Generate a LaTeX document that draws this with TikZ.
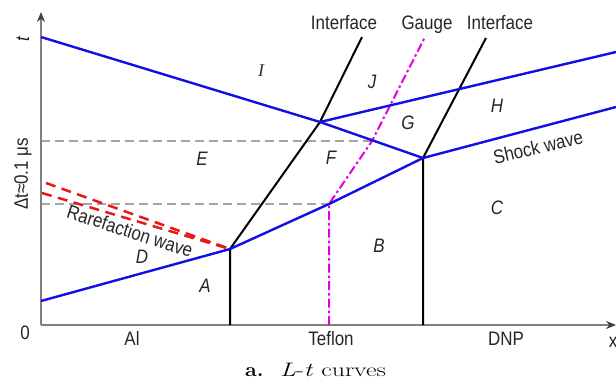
\documentclass[tikz,border=0pt]{standalone}
\usepackage{fontspec}
\usepackage{graphicx}
\setsansfont[FakeStretch=0.87]{Liberation Sans}
\newfontfamily\tnr{Liberation Serif}
\usetikzlibrary{arrows.meta}
\definecolor{wblue}{RGB}{15,15,230}
\definecolor{wmag}{RGB}{225,0,225}
\definecolor{wred}{RGB}{232,24,24}
\definecolor{axgray}{RGB}{128,128,128}
\definecolor{dgray}{RGB}{165,165,165}
\begin{document}
\begin{tikzpicture}[x=1pt,y=-1pt,
 axis/.style={draw=axgray,line width=1.4pt},
 axtip/.style={-{Stealth[length=10pt,width=8pt,color=black!75]}},
 wave/.style={draw=wblue,line width=2.4pt,line join=round},
 iface/.style={draw=black,line width=2pt,line join=round},
 gauge/.style={draw=wmag,line width=2pt,dash pattern=on 9pt off 3pt on 2.5pt off 3pt},
 rare/.style={draw=wred,line width=2.5pt,dash pattern=on 10pt off 6.5pt},
 tline/.style={draw=dgray,line width=1.1pt,dash pattern=on 9pt off 5pt},
 txt/.style={font=\sffamily\fontsize{19.5}{22}\selectfont,inner sep=0pt,text=black!85},
 reg/.style={font=\sffamily\itshape\fontsize{19.5}{22}\selectfont,inner sep=0pt,text=black!85},
]
\useasboundingbox (0,0) rectangle (616,386);
% points
\coordinate (O) at (41,325);
\coordinate (Ytip) at (41,12);
\coordinate (Xtip) at (616,325);
\coordinate (TL) at (41,37);
\coordinate (P1) at (320,122);
\coordinate (P2) at (423,158);
\coordinate (UR) at (616,52);
\coordinate (SR) at (616,107);
\coordinate (BL) at (41,301);
\coordinate (P3) at (230,249);
\coordinate (P4) at (329,204);
\coordinate (Q) at (372,141);
\coordinate (I1b) at (230,325);
\coordinate (I1t) at (362,37);
\coordinate (I2b) at (423,325);
\coordinate (I2t) at (486,38);
\coordinate (Gb) at (329,325);
\coordinate (Gt) at (425,37);
\coordinate (D1) at (41,141);
\coordinate (D2) at (41,204);
\coordinate (R1) at (46,183);
\coordinate (R2) at (42,193);
% time lines
\draw[tline] (D1) -- (Q);
\draw[tline] (D2) -- (P4);
% axes
\draw[axis,axtip] (O) -- (Ytip);
\draw[axis,axtip] (O) -- (Xtip);
% rarefaction
\draw[rare] (R1) -- (P3);
\draw[rare] (R2) -- (P3);
% interfaces and gauge
\draw[iface] (I1b) -- (P3) -- (P1) -- (I1t);
\draw[iface] (I2b) -- (P2) -- (I2t);
\draw[gauge] (Gb) -- (P4) -- (Q) -- (Gt);
% waves
\draw[wave] (TL) -- (P1) -- (P2);
\draw[wave] (P1) -- (UR);
\draw[wave] (BL) -- (P3) -- (P4) -- (P2) -- (SR);
% top labels
\node[txt,anchor=base] (lif1) at (344,29) {Interface};
\node[txt,anchor=base] (lg) at (427,29) {Gauge};
\node[txt,anchor=base] (lif2) at (500,29) {Interface};
% material labels
\node[txt,anchor=base] (lal) at (132,345) {Al};
\node[txt,anchor=base] (lte) at (331,345) {Teflon};
\node[txt,anchor=base] (ldnp) at (506,345) {DNP};
\node[txt,anchor=base] (l0) at (25,339) {0};
\node[txt,anchor=base] (lx) at (613,347) {x};
% axis labels
\node[reg,rotate=90] (lt) at (23,39) {t};
\node[txt,rotate=90] (ldt) at (23,174) {Δt≈0.1 μs};
% region labels
\node[inner sep=0pt,font=\tnr\itshape\fontsize{18}{20}\selectfont,text=black!80] (rI) at (261,71) {I};
\node[reg] (rJ) at (372,82) {J};
\node[reg] (rH) at (497,106) {H};
\node[reg] (rG) at (408,123) {G};
\node[reg] (rF) at (331,158) {F};
\node[reg] (rE) at (202,159) {E};
\node[reg] (rC) at (497,208) {C};
\node[reg] (rB) at (379,246) {B};
\node[reg] (rD) at (142,257) {D};
\node[reg] (rA) at (205,286) {A};
% wave labels
\node[txt,rotate=13] (lsw) at (538,147) {Shock wave};
\node[txt,rotate=-18] (lrw) at (130,231) {Rarefaction wave};
% caption
\node[anchor=base west,inner sep=0pt,font=\fontsize{19.5}{22}\selectfont] (ca) at (245,376) {\scalebox{1.1}[1]{\textbf{a.}}};
\node[anchor=base west,inner sep=0pt,font=\fontsize{19.5}{22}\selectfont] (cb) at (280,376) {\scalebox{1.33}[1]{\textit{L}-\textit{t} curves}};
\end{tikzpicture}
\end{document}
